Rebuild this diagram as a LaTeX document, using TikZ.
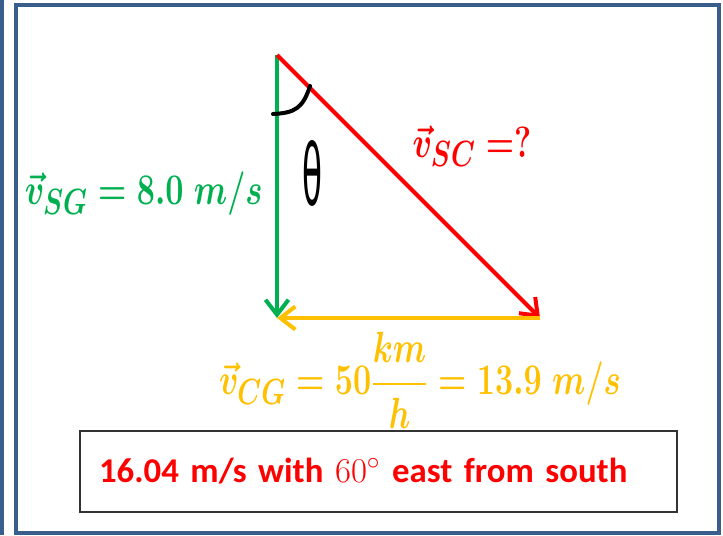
\documentclass[tikz,border=0pt]{standalone}
\usepackage{amsmath}
\usepackage{fontspec}
\newfontfamily\answerfont{Carlito}
\newfontfamily\handfont{DejaVu Sans}
\usetikzlibrary{positioning,arrows.meta,calc}
\definecolor{frameblue}{HTML}{3A5E8C}
\definecolor{sggreen}{HTML}{00B050}
\definecolor{cgorange}{HTML}{FFC000}
\definecolor{scred}{HTML}{FF0000}
\newcommand{\narrowmath}[1]{\scalebox{0.74}[1]{\boldmath$#1$}}

\begin{document}
\begin{tikzpicture}[
      x=0.02cm, y=-0.02cm,
      frame/.style={draw=frameblue, line width=0.08cm},
      vec/.style={line width=0.08cm,
                  -{Straight Barb[length=3mm, width=4.6mm]}},
      lbl/.style={inner sep=0pt, font=\fontsize{28}{32}\selectfont},
      answer/.style={draw=black!80, line width=0.04cm, minimum width=11.94cm,
                     minimum height=1.62cm, inner xsep=0.38cm,
                     text width=11.18cm, align=left,
                     font=\answerfont\bfseries\fontsize{19.8}{23}\selectfont},
    ]
    \useasboundingbox (0,0) rectangle (723,535);
    % page frame
    \draw[frame] (2,0) -- (2,535);
    \draw[frame] (16,5) rectangle (719,533);
    % triangle of velocities
    \coordinate (top) at (277,55);
    \coordinate (corner) at (277,318);
    \coordinate (tip) at (540,318);
    \draw[vec, sggreen] (top) -- (corner);
    \draw[vec, scred] (top) -- (tip);
    \draw[vec, cgorange] (tip) -- (corner);
    % angle mark
    \draw[line width=0.08cm, line cap=round] (310,86)
      .. controls (303,108) and (295,113) .. (273,114);
    \node[inner sep=0pt] (theta) at (312,173)
      {\resizebox{0.4cm}{1.3cm}{\handfont θ}};
    % labels
    \node[lbl, text=sggreen, anchor=east] (vsg) at (263,194)
      {\narrowmath{\vec{v}_{SG}=8.0\;m/s}};
    \node[lbl, text=scred] (vsc) at (472,146) {\narrowmath{\vec{v}_{SC}=?}};
    \node[lbl, text=cgorange] (vcg) at (420,380)
      {\narrowmath{\vec{v}_{CG}=50\dfrac{km}{h}=13.9\;m/s}};
    \node[answer, text=scred] (ans) at (378.5,471.5)
      {16.04 m/s with {\normalfont 60}$^{\circ}$ east from south};
  \end{tikzpicture}
\end{document}
